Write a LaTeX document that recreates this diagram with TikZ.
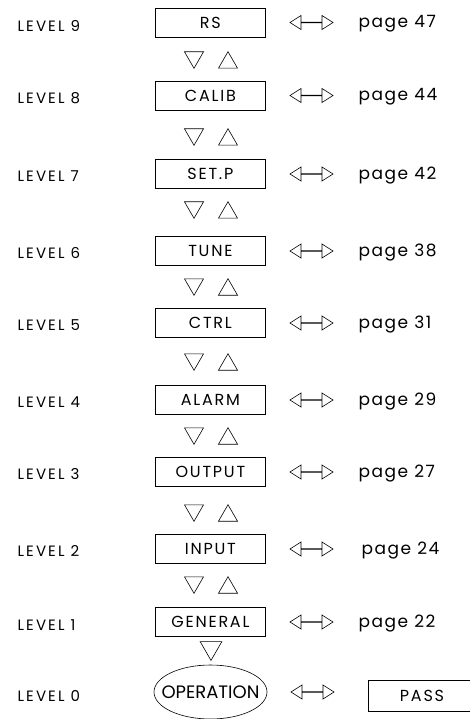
\documentclass[tikz,border=0pt]{standalone}
\usepackage{fontspec}
\setmainfont{Poppins}
\newfontfamily\levelfont[LetterSpace=14]{Poppins}
\newfontfamily\menufont[LetterSpace=11]{Poppins}
\newfontfamily\pagelabelfont[LetterSpace=9]{Poppins}
\usetikzlibrary{shapes.geometric,shapes.arrows}

\begin{document}
\begin{tikzpicture}[x=1pt, y=-1pt, line width=0.6pt,
  lvl/.style={anchor=base west, font=\levelfont\fontsize{15}{17}\selectfont},
  menubox/.style={draw, minimum width=110pt, minimum height=29pt, inner sep=0pt,
    font=\menufont\fontsize{16}{18}\selectfont},
  pg/.style={anchor=base west, font=\pagelabelfont\fontsize{17}{19}\selectfont},
  tridown/.style={draw, regular polygon, regular polygon sides=3,
    shape border rotate=180, minimum size=22pt, inner sep=0pt},
  triup/.style={draw, regular polygon, regular polygon sides=3,
    minimum size=22pt, inner sep=0pt},
  dblarrow/.style={draw, double arrow, minimum height=43pt, minimum width=14pt,
    double arrow head extend=4.5pt, double arrow tip angle=65, inner sep=0pt}]
  \useasboundingbox (0,0) rectangle (469,719);

  % Level 9
  \node[lvl] (l9) at (14,31.5) {LEVEL 9};
  \node[menubox] (rs) at (210.4,22.5) {RS};
  \node[dblarrow] (a9) at (311.5,22.5) {};
  \node[pg] (p9) at (355,28) {page 47};
  \node[tridown] (d9) at (194,57.3) {};
  \node[triup] (u9) at (228,62.7) {};

  % Level 8
  \node[lvl] (l8) at (14,104) {LEVEL 8};
  \node[menubox] (calib) at (210.4,95.5) {CALIB};
  \node[dblarrow] (a8) at (311.5,95.5) {};
  \node[pg] (p8) at (355,101) {page 44};
  \node[tridown] (d8) at (194,134.3) {};
  \node[triup] (u8) at (228,139.7) {};

  % Level 7
  \node[lvl] (l7) at (14,182) {LEVEL 7};
  \node[menubox] (setp) at (210.4,174) {SET.P};
  \node[dblarrow] (a7) at (311.5,174) {};
  \node[pg] (p7) at (355,179.5) {page 42};
  \node[tridown] (d7) at (194,207.3) {};
  \node[triup] (u7) at (228,212.7) {};

  % Level 6
  \node[lvl] (l6) at (14,258) {LEVEL 6};
  \node[menubox] (tune) at (210.4,251) {TUNE};
  \node[dblarrow] (a6) at (311.5,251) {};
  \node[pg] (p6) at (355,256.5) {page 38};
  \node[tridown] (d6) at (194,284.3) {};
  \node[triup] (u6) at (228,289.7) {};

  % Level 5
  \node[lvl] (l5) at (14,330) {LEVEL 5};
  \node[menubox] (ctrl) at (210.4,323) {CTRL};
  \node[dblarrow] (a5) at (311.5,323) {};
  \node[pg] (p5) at (355,328.5) {page 31};
  \node[tridown] (d5) at (194,359.3) {};
  \node[triup] (u5) at (228,364.7) {};

  % Level 4
  \node[lvl] (l4) at (14,407) {LEVEL 4};
  \node[menubox] (alarm) at (210.4,400) {ALARM};
  \node[dblarrow] (a4) at (311.5,400) {};
  \node[pg] (p4) at (355,405.5) {page 29};
  \node[tridown] (d4) at (194,433.3) {};
  \node[triup] (u4) at (228,438.7) {};

  % Level 3
  \node[lvl] (l3) at (14,479) {LEVEL 3};
  \node[menubox] (output) at (210.4,472) {OUTPUT};
  \node[dblarrow] (a3) at (311.5,472) {};
  \node[pg] (p3) at (355,477.5) {page 27};
  \node[tridown] (d3) at (194,510.3) {};
  \node[triup] (u3) at (228,515.7) {};

  % Level 2
  \node[lvl] (l2) at (14,556) {LEVEL 2};
  \node[menubox] (input) at (210.4,549) {INPUT};
  \node[dblarrow] (a2) at (311.5,549) {};
  \node[pg] (p2) at (358,554.5) {page 24};
  \node[tridown] (d2) at (194,582.3) {};
  \node[triup] (u2) at (228,587.7) {};

  % Level 1
  \node[lvl] (l1) at (14,630) {LEVEL 1};
  \node[menubox] (general) at (210.4,622) {GENERAL};
  \node[dblarrow] (a1) at (311.5,622) {};
  \node[pg] (p1) at (355,627.5) {page 22};
  \node[tridown, minimum size=25pt] (d1) at (211,647.9) {};

  % Level 0
  \node[lvl] (l0) at (14,701) {LEVEL 0};
  \node[draw, ellipse, minimum width=113pt, minimum height=54pt, inner sep=0pt,
    font=\fontsize{18}{20}\selectfont] (oper) at (210.5,692) {\makebox[0pt]{OPERATION}};
  \node[dblarrow] (a0) at (312.5,692) {};
  \node[menubox, minimum width=108pt, minimum height=31pt] (pass) at (422,695.5) {PASS};

\end{tikzpicture}
\end{document}
